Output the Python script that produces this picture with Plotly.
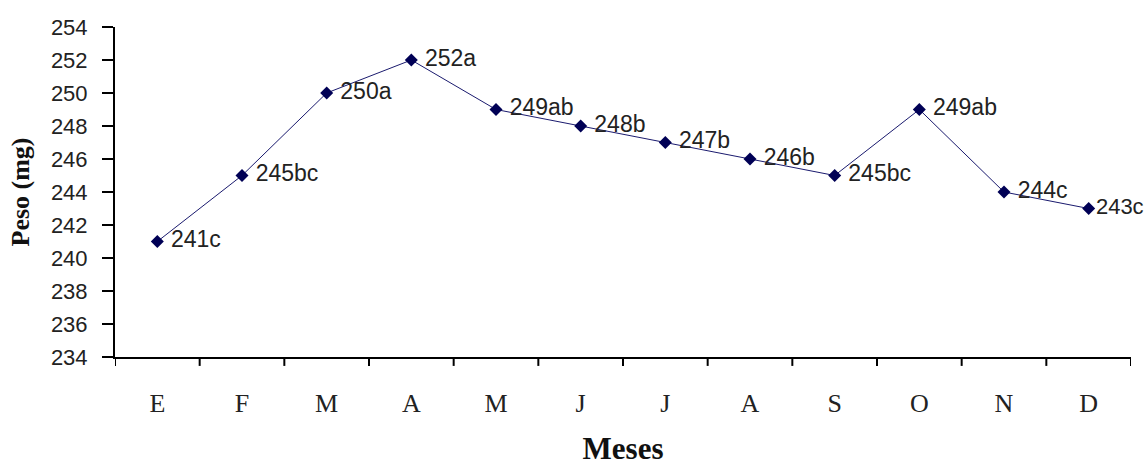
import plotly.graph_objects as go

months = ["E", "F", "M", "A", "M", "J", "J", "A", "S", "O", "N", "D"]
peso = [241, 245, 250, 252, 249, 248, 247, 246, 245, 249, 244, 243]
letras = ["c", "bc", "a", "a", "ab", "b", "b", "b", "bc", "ab", "c", "c"]
y_ticks = list(range(234, 255, 2))

x_idx = list(range(len(months)))
labels = [f"{v}{l}" for v, l in zip(peso, letras)]
texts = [" " + t for t in labels[:-1]] + [labels[-1]]
sizes = [23] * (len(labels) - 1) + [22]

fig = go.Figure()
fig.add_trace(go.Scatter(
    x=x_idx, y=peso, mode="lines+markers+text",
    line=dict(color="#1a1a6e", width=1),
    marker=dict(symbol="diamond", size=10, color="#000055"),
    text=texts, textposition="middle right",
    textfont=dict(family="Liberation Sans", size=sizes, color="#222222"),
    cliponaxis=False, showlegend=False,
))

fig.update_layout(
    width=1145, height=466,
    margin=dict(l=115, r=14, t=27, b=109),
    paper_bgcolor="white", plot_bgcolor="white",
    xaxis=dict(
        range=[-0.5, 11.5], tickmode="array", tickvals=x_idx, ticktext=months,
        showline=True, linecolor="black", linewidth=2, automargin=False,
        ticks="", showgrid=False, zeroline=False, ticklabelstandoff=22,
        tickfont=dict(family="Liberation Serif", size=26, color="#222222"),
        title=dict(text="<b>Meses</b>", font=dict(family="Liberation Serif", size=31, color="#111111"), standoff=30),
    ),
    yaxis=dict(
        range=[234, 254], tickmode="array", tickvals=y_ticks,
        showline=True, linecolor="black", linewidth=2, automargin=False,
        ticks="outside", ticklen=11, tickwidth=2, tickcolor="black",
        showgrid=False, zeroline=False, ticklabelstandoff=10,
        tickfont=dict(family="Liberation Sans", size=22, color="#222222"),
        title=dict(text="<b>Peso (mg)</b>", font=dict(family="Liberation Serif", size=26, color="#111111"), standoff=14),
    ),
)

# boundary ticks on x axis
for i in range(len(months) + 1):
    fig.add_shape(type="line", xref="x", yref="paper", x0=i - 0.5, x1=i - 0.5, y0=0, y1=-0.027,
                  line=dict(color="black", width=2))

fig.write_html("out.html", config={"displayModeBar": False},
               post_script="document.body.style.margin='0px';")
